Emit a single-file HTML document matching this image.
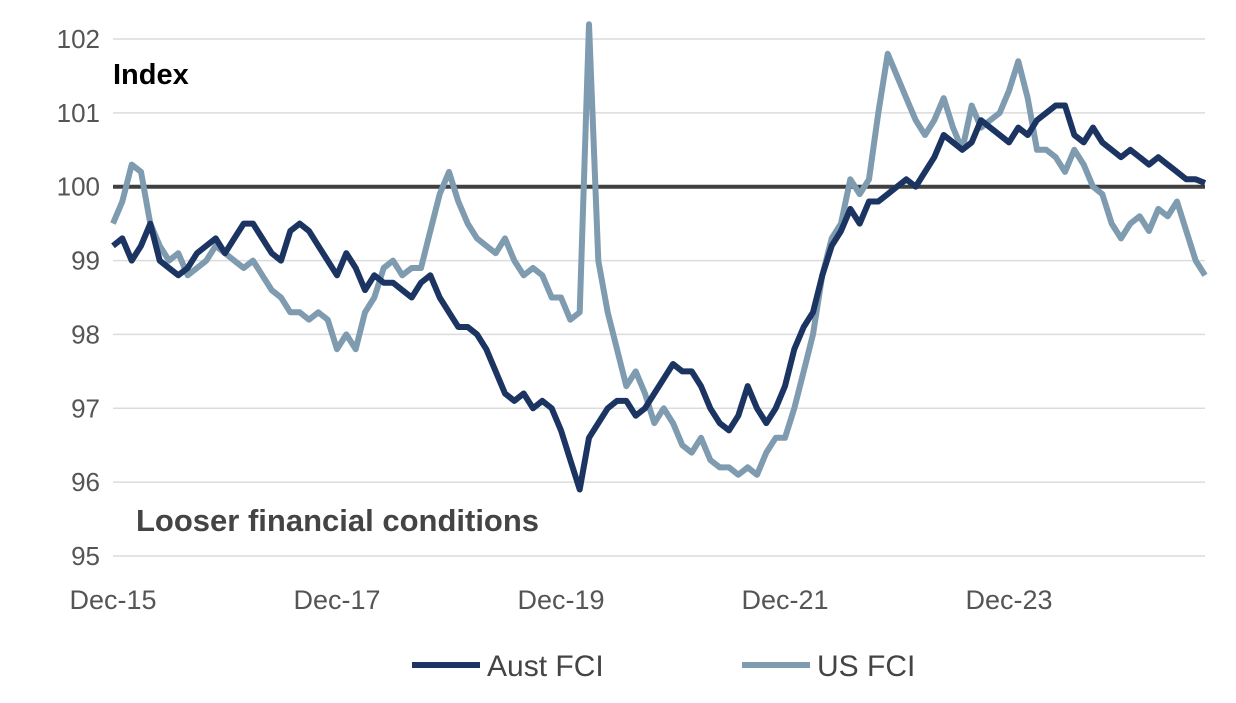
<!DOCTYPE html>
<html><head><meta charset="utf-8"><style>
body{margin:0;background:#fff}
svg text{font-family:"Liberation Sans",sans-serif}
</style></head><body>
<svg width="1236" height="698" viewBox="0 0 1236 698">
<g id="grid"></g><g id="lines"></g><g id="labels"></g>
<text x="113" y="84" font-size="29" font-weight="bold" fill="#000">Index</text>
<text x="136" y="531" font-size="31" font-weight="bold" fill="#444">Looser financial conditions</text>
<g>
<line x1="412" y1="665" x2="480" y2="665" stroke="#1c3461" stroke-width="6"/>
<text x="487" y="676" font-size="30" fill="#444">Aust FCI</text>
<line x1="742" y1="665" x2="810" y2="665" stroke="#7f9bb0" stroke-width="6"/>
<text x="817" y="676" font-size="30" fill="#444">US FCI</text>
</g>
</svg>
<script>
const yTicks=[95,96,97,98,99,100,101,102];
const xTickLabels=["Dec-15","Dec-17","Dec-19","Dec-21","Dec-23"];
const xTickMonths=[0,24,48,72,96];
const usFCI=[99.5,99.8,100.3,100.2,99.5,99.2,99.0,99.1,98.8,98.9,99.0,99.2,99.1,99.0,98.9,99.0,98.8,98.6,98.5,98.3,98.3,98.2,98.3,98.2,97.8,98.0,97.8,98.3,98.5,98.9,99.0,98.8,98.9,98.9,99.4,99.9,100.2,99.8,99.5,99.3,99.2,99.1,99.3,99.0,98.8,98.9,98.8,98.5,98.5,98.2,98.3,102.2,99.0,98.3,97.8,97.3,97.5,97.2,96.8,97.0,96.8,96.5,96.4,96.6,96.3,96.2,96.2,96.1,96.2,96.1,96.4,96.6,96.6,97.0,97.5,98.0,98.8,99.3,99.5,100.1,99.9,100.1,101.0,101.8,101.5,101.2,100.9,100.7,100.9,101.2,100.8,100.5,101.1,100.8,100.9,101.0,101.3,101.7,101.2,100.5,100.5,100.4,100.2,100.5,100.3,100.0,99.9,99.5,99.3,99.5,99.6,99.4,99.7,99.6,99.8,99.4,99.0,98.8];
const austFCI=[99.2,99.3,99.0,99.2,99.5,99.0,98.9,98.8,98.9,99.1,99.2,99.3,99.1,99.3,99.5,99.5,99.3,99.1,99.0,99.4,99.5,99.4,99.2,99.0,98.8,99.1,98.9,98.6,98.8,98.7,98.7,98.6,98.5,98.7,98.8,98.5,98.3,98.1,98.1,98.0,97.8,97.5,97.2,97.1,97.2,97.0,97.1,97.0,96.7,96.3,95.9,96.6,96.8,97.0,97.1,97.1,96.9,97.0,97.2,97.4,97.6,97.5,97.5,97.3,97.0,96.8,96.7,96.9,97.3,97.0,96.8,97.0,97.3,97.8,98.1,98.3,98.8,99.2,99.4,99.7,99.5,99.8,99.8,99.9,100.0,100.1,100.0,100.2,100.4,100.7,100.6,100.5,100.6,100.9,100.8,100.7,100.6,100.8,100.7,100.9,101.0,101.1,101.1,100.7,100.6,100.8,100.6,100.5,100.4,100.5,100.4,100.3,100.4,100.3,100.2,100.1,100.1,100.05];
const NS="http://www.w3.org/2000/svg";
const x0=113,x1=1205,mMax=117,yTop=39,yBot=556;
const xs=m=>x0+m*(x1-x0)/mMax;
const ys=v=>yBot-(v-95)*(yBot-yTop)/7;
const grid=document.getElementById('grid'),lines=document.getElementById('lines'),labels=document.getElementById('labels');
yTicks.forEach(v=>{
 const l=document.createElementNS(NS,'line');
 l.setAttribute('x1',x0);l.setAttribute('x2',x1);l.setAttribute('y1',ys(v));l.setAttribute('y2',ys(v));
 l.setAttribute('stroke','#dcdcdc');l.setAttribute('stroke-width','1.5');
 
 
 grid.appendChild(l);
 const t=document.createElementNS(NS,'text');
 t.setAttribute('x',100);t.setAttribute('y',ys(v)+9);t.setAttribute('text-anchor','end');
 t.setAttribute('font-size','26');t.setAttribute('fill','#555');t.textContent=v;
 
 
 labels.appendChild(t);
});
xTickLabels.forEach((s,i)=>{
 const t=document.createElementNS(NS,'text');
 t.setAttribute('x',xs(xTickMonths[i]));t.setAttribute('y',609);t.setAttribute('text-anchor','middle');
 t.setAttribute('font-size','27');t.setAttribute('fill','#555');t.textContent=s;
 
 
 labels.appendChild(t);
});
const ref=document.createElementNS(NS,'line');
ref.setAttribute('x1',x0);ref.setAttribute('x2',x1);ref.setAttribute('y1',ys(100));ref.setAttribute('y2',ys(100));
ref.setAttribute('stroke','#404040');ref.setAttribute('stroke-width','4');


grid.appendChild(ref);
function series(arr,color,name){
 const p=document.createElementNS(NS,'polyline');
 p.setAttribute('points',arr.map((v,i)=>xs(i).toFixed(1)+','+ys(Math.min(v,102.2)).toFixed(1)).join(' '));
 p.setAttribute('fill','none');p.setAttribute('stroke',color);p.setAttribute('stroke-width','6');p.setAttribute('stroke-linejoin','round');
 
 
 lines.appendChild(p);
}
series(usFCI,'#7f9bb0','us-fci-line');
series(austFCI,'#1c3461','aust-fci-line');
</script>
</body></html>
